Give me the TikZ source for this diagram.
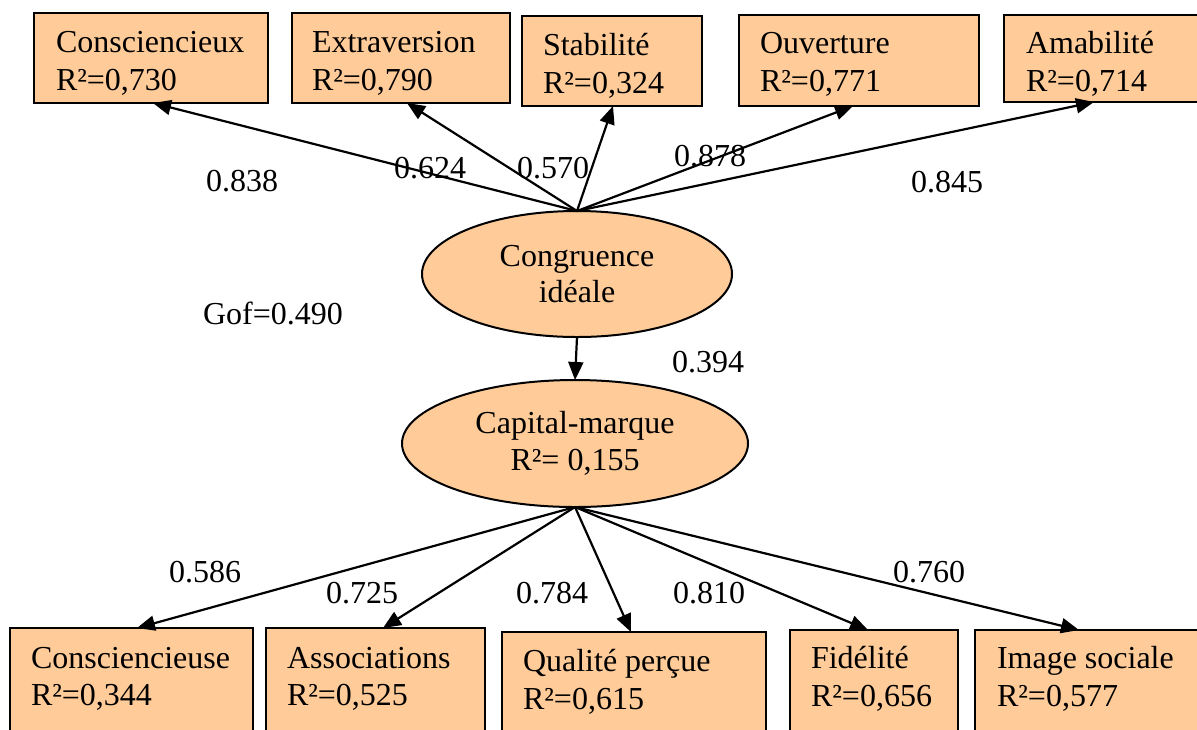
\documentclass[tikz,border=0pt]{standalone}
\usepackage{fontspec}
\setmainfont{Liberation Serif}
\usetikzlibrary{arrows.meta,shapes.geometric}
\definecolor{peach}{HTML}{FFCC99}
\begin{document}
\begin{tikzpicture}[x=0.5pt,y=-0.5pt,
  every node/.style={inner sep=0pt,outer sep=0pt,font=\fontsize{16}{19}\selectfont},
  box/.style={draw=black,line width=1.1pt,fill=peach,rectangle,anchor=north west},
  lat/.style={draw=black,line width=1pt,fill=peach,ellipse,inner sep=0pt},
  txt/.style={anchor=base west},
  ctxt/.style={anchor=base},
  coef/.style={anchor=center},
  arr/.style={line width=1.1pt,-{Triangle[length=9pt,width=7.5pt]}}]
\useasboundingbox (0,0) rectangle (1197,729);
% top boxes
\node[box,minimum width=117pt,minimum height=45pt] (b1) at (34,13) {};
\node[box,minimum width=109pt,minimum height=45pt] (b2) at (292,13) {};
\node[box,minimum width=90pt,minimum height=45pt] (b3) at (522,16) {};
\node[box,minimum width=120pt,minimum height=45.5pt] (b4) at (739,15) {};
\node[box,minimum width=97pt,minimum height=43.5pt] (b5) at (1004,15) {};
\node[txt] (b1a) at (56,52) {Consciencieux};
\node[txt] (b1b) at (56,90) {R²=0,730};
\node[txt] (b2a) at (312,52) {Extraversion};
\node[txt] (b2b) at (312,90) {R²=0,790};
\node[txt] (b3a) at (543,55) {Stabilité};
\node[txt] (b3b) at (543,93) {R²=0,324};
\node[txt] (b4a) at (760,53) {Ouverture};
\node[txt] (b4b) at (760,91) {R²=0,771};
\node[txt] (b5a) at (1026,53) {Amabilité};
\node[txt] (b5b) at (1026,91) {R²=0,714};
% bottom boxes
\node[box,minimum width=121.5pt,minimum height=60pt] (d1) at (10,628) {};
\node[box,minimum width=109.5pt,minimum height=60pt] (d2) at (266,628) {};
\node[box,minimum width=132pt,minimum height=60pt] (d3) at (502,632) {};
\node[box,minimum width=84pt,minimum height=60pt] (d4) at (790,630) {};
\node[box,minimum width=112pt,minimum height=60pt] (d5) at (975,630) {};
\node[txt] (d1a) at (31,668) {Consciencieuse};
\node[txt] (d1b) at (31,705) {R²=0,344};
\node[txt] (d2a) at (287,668) {Associations};
\node[txt] (d2b) at (287,705) {R²=0,525};
\node[txt] (d3a) at (523,671) {Qualité perçue};
\node[txt] (d3b) at (523,709) {R²=0,615};
\node[txt] (d4a) at (811,668) {Fidélité};
\node[txt] (d4b) at (811,706) {R²=0,656};
\node[txt] (d5a) at (997,668) {Image sociale};
\node[txt] (d5b) at (997,706) {R²=0,577};
% latent variables
\node[lat,minimum width=155pt,minimum height=63pt] (ci) at (577,274) {};
\node[ctxt] (cia) at (577,266) {Congruence};
\node[ctxt] (cib) at (577,302) {idéale};
\node[lat,minimum width=173pt,minimum height=63.5pt] (cm) at (575,443.5) {};
\node[ctxt] (cma) at (575,433) {Capital-marque};
\node[ctxt] (cmb) at (575,470) {R²= 0,155};
% arrows
\draw[arr] (ci.north) -- (b1.south west -| 153,0);
\draw[arr] (ci.north) -- (b2.south west -| 407,0);
\draw[arr] (ci.north) -- (b3.south west -| 613,0);
\draw[arr] (ci.north) -- (b4.south west -| 853,0);
\draw[arr] (ci.north) -- (b5.south west -| 1094,0);
\draw[arr] (ci.south) -- (cm.north);
\draw[arr] (cm.south) -- (d1.north west -| 137,0);
\draw[arr] (cm.south) -- (d2.north west -| 383,0);
\draw[arr] (cm.south) -- (d3.north west -| 631,0);
\draw[arr] (cm.south) -- (d4.north west -| 868,0);
\draw[arr] (cm.south) -- (d5.north west -| 1079,0);
% coefficients
\node[coef] (k1) at (242,181) {0.838};
\node[coef] (k2) at (430,168) {0.624};
\node[coef] (k3) at (553,168) {0.570};
\node[coef] (k4) at (710,156) {0.878};
\node[coef] (k5) at (947,182) {0.845};
\node[coef] (gof) at (273,313) {Gof=0.490};
\node[coef] (k6) at (708,362) {0.394};
\node[coef] (k7) at (205,572) {0.586};
\node[coef] (k8) at (362,593) {0.725};
\node[coef] (k9) at (552,593) {0.784};
\node[coef] (k10) at (709,593) {0.810};
\node[coef] (k11) at (929,572) {0.760};
\end{tikzpicture}
\end{document}
